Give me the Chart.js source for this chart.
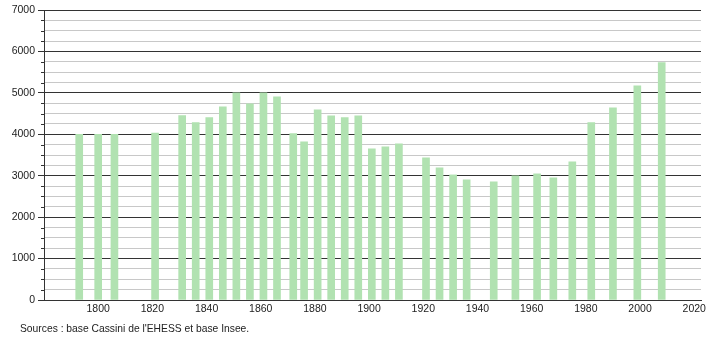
<!DOCTYPE html>
<html>
<head>
<meta charset="utf-8">
<script src="https://cdn.jsdelivr.net/npm/chart.js@4.4.1/dist/chart.umd.min.js"></script>
<style>
  html, body { margin: 0; padding: 0; background: #fff; }
  #wrap { position: relative; width: 710px; height: 340px; }
  #c { position: absolute; left: 0; top: 0; }
  #src { position: absolute; left: 20px; top: 323px; font: 10.3px "Liberation Sans", Arial, sans-serif; color: #222; white-space: nowrap; }
</style>
</head>
<body>
<div id="wrap">
  <canvas id="c" width="710" height="340"></canvas>
  <div id="src">Sources : base Cassini de l'EHESS et base Insee.</div>
</div>
<script>
const years = [1793, 1800, 1806, 1821, 1831, 1836, 1841, 1846, 1851, 1856, 1861, 1866, 1872, 1876, 1881, 1886, 1891, 1896, 1901, 1906, 1911, 1921, 1926, 1931, 1936, 1946, 1954, 1962, 1968, 1975, 1982, 1990, 1999, 2008];
const population = [4000, 4000, 4000, 4030, 4450, 4280, 4405, 4665, 5000, 4735, 5000, 4905, 4020, 3820, 4590, 4445, 4405, 4445, 3650, 3700, 3770, 3430, 3190, 3020, 2900, 2850, 3000, 3045, 2950, 3335, 4280, 4640, 5170, 5730];
const xTickLabels = [1800, 1820, 1840, 1860, 1880, 1900, 1920, 1940, 1960, 1980, 2000, 2020];
const yTickLabels = [0, 1000, 2000, 3000, 4000, 5000, 6000, 7000];

const dark = '#333333';
const light = '#c8c8c8';
const isMajor = v => v % 1000 === 0;

const minorTicks = {
  id: 'minorTicks',
  afterDraw(chart) {
    const y = chart.scales.y;
    const ctx = chart.ctx;
    ctx.save();
    ctx.strokeStyle = dark;
    ctx.lineWidth = 1;
    y.ticks.forEach(t => {
      if (!isMajor(t.value)) {
        const py = Math.round(y.getPixelForValue(t.value)) + 0.5;
        ctx.beginPath();
        ctx.moveTo(y.right - 3, py);
        ctx.lineTo(y.right, py);
        ctx.stroke();
      }
    });
    ctx.restore();
  }
};

new Chart(document.getElementById('c'), {
  type: 'bar',
  data: {
    datasets: [{
      data: years.map((yr, i) => ({ x: yr, y: population[i] })),
      backgroundColor: '#b1e2b1',
      borderWidth: 0,
      barThickness: 7
    }]
  },
  options: {
    responsive: false,
    animation: false,
    layout: { padding: { left: 0, right: 9, top: 10, bottom: 0 } },
    plugins: { legend: { display: false }, tooltip: { enabled: false } },
    scales: {
      x: {
        type: 'linear',
        min: 1780,
        max: 2022.5,
        offset: false,
        grid: { display: false, drawTicks: false },
        border: { display: true, color: dark, width: 1 },
        afterBuildTicks: s => { s.ticks = xTickLabels.map(v => ({ value: v })); },
        afterFit: s => { s.height = 40; },
        ticks: {
          padding: 3,
          color: '#222',
          maxRotation: 0,
          autoSkip: false,
          font: { family: '"Liberation Sans", Arial, sans-serif', size: 10.5 },
          callback: v => String(v)
        }
      },
      y: {
        min: 0,
        max: 7000,
        ticks: {
          stepSize: 250,
          autoSkip: false,
          padding: 3,
          color: '#222',
          font: { family: '"Liberation Sans", Arial, sans-serif', size: 10.5 },
          callback: v => (yTickLabels.includes(v) ? String(v) : '')
        },
        afterFit: s => { s.width = 44; },
        grid: {
          color: ctx => (isMajor(ctx.tick.value) ? dark : light),
          tickColor: ctx => (isMajor(ctx.tick.value) ? dark : 'rgba(0,0,0,0)'),
          tickLength: 6,
          lineWidth: 1
        },
        border: { display: true, color: dark, width: 1 }
      }
    }
  },
  plugins: [minorTicks]
});
</script>
</body>
</html>
